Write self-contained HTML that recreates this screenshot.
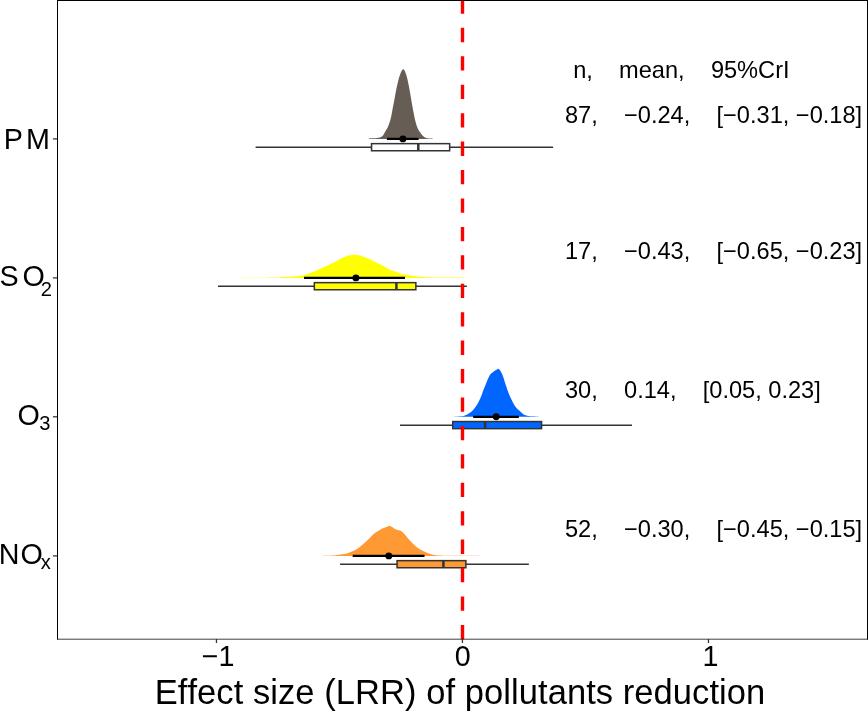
<!DOCTYPE html>
<html lang="en"><head><meta charset="utf-8"><title>Effect size (LRR) of pollutants reduction</title>
<style>html,body{margin:0;padding:0;background:#fff;}body{width:868px;height:712px;overflow:hidden;}svg{display:block;}svg text{white-space:pre;font-kerning:none;}svg{will-change:transform;}</style>
</head><body>
<svg width="868" height="712" viewBox="0 0 868 712">
<rect width="868" height="712" fill="#fff"/>
<g font-family="'Liberation Sans', sans-serif" fill="#000" style="font-kerning:none;white-space:pre" xml:space="preserve">
<path d="M369.00,138.90 L369.00,138.90 C369.05,138.83 367.97,138.64 369.30,138.50 C370.63,138.36 375.00,138.33 377.00,138.05 C379.00,137.77 380.22,137.37 381.30,136.80 C382.38,136.23 382.77,135.65 383.50,134.65 C384.23,133.65 384.97,132.08 385.70,130.80 C386.43,129.53 387.26,128.37 387.90,127.00 C388.54,125.63 389.00,124.33 389.55,122.60 C390.10,120.87 390.66,119.07 391.20,116.60 C391.74,114.13 392.25,110.73 392.80,107.80 C393.35,104.87 393.95,101.92 394.50,99.00 C395.05,96.08 395.55,93.03 396.10,90.30 C396.65,87.57 397.25,84.88 397.80,82.60 C398.35,80.32 398.87,78.33 399.40,76.60 C399.93,74.87 400.52,73.30 401.00,72.20 C401.48,71.10 401.92,70.48 402.30,70.00 C402.68,69.52 402.97,69.30 403.30,69.30 C403.63,69.30 403.97,69.52 404.30,70.00 C404.63,70.48 404.87,71.02 405.30,72.20 C405.73,73.38 406.35,75.00 406.90,77.10 C407.45,79.20 408.05,82.05 408.60,84.80 C409.15,87.55 409.65,90.50 410.20,93.60 C410.75,96.70 411.35,100.30 411.90,103.40 C412.45,106.50 412.97,109.45 413.50,112.20 C414.03,114.95 414.55,117.62 415.10,119.90 C415.65,122.18 416.25,124.27 416.80,125.90 C417.35,127.53 417.77,128.52 418.40,129.70 C419.03,130.88 419.87,132.00 420.60,133.00 C421.33,134.00 422.07,134.97 422.80,135.70 C423.53,136.43 424.27,136.99 425.00,137.40 C425.73,137.81 426.02,137.95 427.20,138.15 C428.38,138.35 431.20,138.47 432.10,138.60 C433.00,138.72 432.52,138.85 432.60,138.90 L432.60,138.90 Z" fill="#665E54"/>
<path d="M241.00,277.90 L241.00,277.90 C241.08,277.87 237.00,277.74 241.50,277.70 C246.00,277.66 263.33,277.72 268.00,277.68 C272.67,277.64 267.50,277.50 269.50,277.45 C271.50,277.40 278.00,277.46 280.00,277.40 C282.00,277.34 279.83,277.20 281.50,277.10 C283.17,277.00 287.58,276.94 290.00,276.80 C292.42,276.66 294.42,276.39 296.00,276.26 C297.58,276.13 298.35,276.14 299.50,276.00 C300.65,275.86 301.75,275.68 302.90,275.40 C304.05,275.12 305.25,274.67 306.40,274.30 C307.55,273.92 308.65,273.57 309.80,273.15 C310.95,272.73 312.15,272.26 313.30,271.80 C314.45,271.34 315.55,270.90 316.70,270.40 C317.85,269.90 319.05,269.32 320.20,268.80 C321.35,268.28 322.45,267.80 323.60,267.30 C324.75,266.80 325.94,266.35 327.10,265.80 C328.26,265.25 329.40,264.58 330.55,264.00 C331.70,263.42 332.84,262.90 334.00,262.30 C335.16,261.70 336.35,261.02 337.50,260.40 C338.65,259.78 339.75,259.18 340.90,258.60 C342.05,258.02 343.25,257.38 344.40,256.90 C345.55,256.42 346.65,256.01 347.80,255.70 C348.95,255.39 350.13,255.19 351.30,255.05 C352.47,254.91 353.77,254.85 354.80,254.85 C355.83,254.85 356.58,254.91 357.50,255.05 C358.42,255.19 359.37,255.44 360.30,255.70 C361.23,255.96 362.18,256.30 363.10,256.60 C364.02,256.90 364.77,257.10 365.80,257.50 C366.83,257.90 368.15,258.47 369.30,259.00 C370.45,259.53 371.55,260.13 372.70,260.70 C373.85,261.27 375.05,261.85 376.20,262.40 C377.35,262.95 378.45,263.43 379.60,264.00 C380.75,264.57 381.94,265.17 383.10,265.80 C384.26,266.43 385.40,267.15 386.55,267.80 C387.70,268.45 388.84,269.15 390.00,269.70 C391.16,270.25 392.35,270.67 393.50,271.10 C394.65,271.52 395.75,271.87 396.90,272.25 C398.05,272.63 399.25,273.06 400.40,273.40 C401.55,273.74 402.65,274.02 403.80,274.30 C404.95,274.58 406.00,274.85 407.30,275.10 C408.60,275.35 409.62,275.54 411.60,275.80 C413.58,276.06 416.67,276.42 419.20,276.65 C421.73,276.88 424.27,277.07 426.80,277.20 C429.33,277.32 430.53,277.33 434.40,277.40 C438.27,277.47 444.73,277.54 450.00,277.60 C455.27,277.66 463.17,277.70 466.00,277.75 C468.83,277.80 466.83,277.88 467.00,277.90 L467.00,277.90 Z" fill="#FFFF00"/>
<path d="M454.50,416.80 L454.50,416.80 C454.58,416.77 453.90,416.70 455.00,416.60 C456.10,416.50 459.58,416.35 461.10,416.20 C462.62,416.05 463.08,415.98 464.10,415.70 C465.12,415.42 466.18,415.02 467.20,414.50 C468.22,413.98 469.32,413.23 470.20,412.60 C471.08,411.97 471.75,411.45 472.50,410.70 C473.25,409.95 473.95,409.10 474.70,408.10 C475.45,407.10 476.23,405.97 477.00,404.70 C477.77,403.43 478.53,402.08 479.30,400.50 C480.07,398.92 480.85,397.10 481.60,395.20 C482.35,393.30 483.05,391.07 483.80,389.10 C484.55,387.13 485.47,384.98 486.10,383.40 C486.73,381.83 487.09,380.85 487.60,379.65 C488.11,378.45 488.63,377.14 489.15,376.20 C489.67,375.26 490.07,374.67 490.70,374.00 C491.32,373.33 492.15,372.80 492.90,372.20 C493.65,371.60 494.43,370.90 495.20,370.40 C495.97,369.90 496.93,369.44 497.50,369.20 C498.07,368.96 498.10,368.67 498.60,368.95 C499.10,369.23 499.92,370.06 500.50,370.90 C501.08,371.74 501.58,372.80 502.10,374.00 C502.62,375.20 503.10,376.58 503.60,378.10 C504.10,379.62 504.60,381.52 505.10,383.10 C505.60,384.68 506.10,386.15 506.60,387.60 C507.10,389.05 507.60,390.47 508.10,391.80 C508.60,393.13 509.08,394.40 509.60,395.60 C510.12,396.80 510.68,397.93 511.20,399.00 C511.72,400.07 512.20,401.05 512.70,402.00 C513.20,402.95 513.70,403.88 514.20,404.70 C514.70,405.52 515.20,406.23 515.70,406.90 C516.20,407.57 516.70,408.18 517.20,408.70 C517.70,409.22 518.18,409.53 518.70,410.00 C519.22,410.47 519.78,411.00 520.30,411.50 C520.82,412.00 521.30,412.56 521.80,413.00 C522.30,413.44 522.80,413.82 523.30,414.15 C523.80,414.48 524.30,414.76 524.80,415.00 C525.30,415.24 525.67,415.43 526.30,415.60 C526.93,415.78 527.58,415.93 528.60,416.05 C529.62,416.18 530.58,416.24 532.40,416.35 C534.22,416.46 538.23,416.62 539.50,416.70 C540.77,416.77 539.92,416.78 540.00,416.80 L540.00,416.80 Z" fill="#0066FF"/>
<path d="M323.00,555.90 L323.00,555.90 C323.08,555.87 321.70,555.77 323.50,555.70 C325.30,555.62 330.93,555.64 333.80,555.45 C336.67,555.26 338.39,554.93 340.70,554.56 C343.01,554.18 345.57,553.78 347.65,553.20 C349.73,552.62 351.59,551.84 353.20,551.10 C354.81,550.36 355.92,549.67 357.30,548.75 C358.68,547.83 360.12,546.71 361.50,545.60 C362.88,544.49 364.22,543.37 365.60,542.10 C366.98,540.83 368.42,539.38 369.80,538.00 C371.18,536.62 372.52,534.95 373.90,533.80 C375.28,532.65 376.72,531.97 378.10,531.10 C379.48,530.23 380.82,529.28 382.20,528.60 C383.58,527.92 385.18,527.44 386.40,527.00 C387.62,526.56 388.53,525.96 389.50,525.94 C390.47,525.92 391.30,526.39 392.20,526.90 C393.10,527.41 394.02,528.49 394.90,529.00 C395.78,529.51 396.62,529.68 397.50,529.95 C398.38,530.22 399.32,530.21 400.20,530.60 C401.08,530.99 401.92,531.52 402.80,532.30 C403.68,533.08 404.58,534.23 405.50,535.30 C406.42,536.37 407.37,537.63 408.30,538.70 C409.23,539.77 410.18,540.73 411.10,541.70 C412.02,542.67 412.88,543.62 413.80,544.50 C414.72,545.38 415.67,546.22 416.60,546.95 C417.53,547.68 418.48,548.32 419.40,548.90 C420.32,549.48 421.18,549.94 422.10,550.40 C423.02,550.86 423.97,551.23 424.90,551.65 C425.83,552.07 426.78,552.52 427.70,552.90 C428.62,553.27 429.48,553.60 430.40,553.90 C431.32,554.20 432.27,554.47 433.20,554.70 C434.13,554.92 435.08,555.12 436.00,555.25 C436.92,555.38 436.70,555.42 438.70,555.50 C440.70,555.58 441.37,555.66 448.00,555.70 C454.63,555.74 473.33,555.72 478.50,555.75 C483.67,555.78 478.92,555.88 479.00,555.90 L479.00,555.90 Z" fill="#FF9933"/>
<line x1="255.60" y1="147.30" x2="371.55" y2="147.30" stroke="#333" stroke-width="1.4"/>
<line x1="449.65" y1="147.30" x2="553.10" y2="147.30" stroke="#333" stroke-width="1.4"/>
<rect x="371.55" y="143.65" width="78.10" height="7.10" fill="#FFFFFF" stroke="#333" stroke-width="1.50"/>
<line x1="418.30" y1="143.65" x2="418.30" y2="150.75" stroke="#333" stroke-width="2.5"/>
<line x1="218.00" y1="286.30" x2="314.35" y2="286.30" stroke="#333" stroke-width="1.4"/>
<line x1="415.85" y1="286.30" x2="466.80" y2="286.30" stroke="#333" stroke-width="1.4"/>
<rect x="314.35" y="282.65" width="101.50" height="7.10" fill="#FFFF00" stroke="#333" stroke-width="1.50"/>
<line x1="396.40" y1="282.65" x2="396.40" y2="289.75" stroke="#333" stroke-width="2.5"/>
<line x1="400.00" y1="425.20" x2="452.75" y2="425.20" stroke="#333" stroke-width="1.4"/>
<line x1="541.55" y1="425.20" x2="632.00" y2="425.20" stroke="#333" stroke-width="1.4"/>
<rect x="452.75" y="421.55" width="88.80" height="7.10" fill="#0066FF" stroke="#333" stroke-width="1.50"/>
<line x1="485.15" y1="421.55" x2="485.15" y2="428.65" stroke="#333" stroke-width="2.5"/>
<line x1="340.10" y1="564.30" x2="397.05" y2="564.30" stroke="#333" stroke-width="1.4"/>
<line x1="465.85" y1="564.30" x2="528.85" y2="564.30" stroke="#333" stroke-width="1.4"/>
<rect x="397.05" y="560.65" width="68.80" height="7.10" fill="#FF9933" stroke="#333" stroke-width="1.50"/>
<line x1="443.40" y1="560.65" x2="443.40" y2="567.75" stroke="#333" stroke-width="2.5"/>
<line x1="386.90" y1="138.90" x2="418.60" y2="138.90" stroke="#000" stroke-width="2.2"/>
<circle cx="402.90" cy="138.90" r="3.45" fill="#000"/>
<line x1="304.00" y1="277.90" x2="405.00" y2="277.90" stroke="#000" stroke-width="2.2"/>
<circle cx="355.90" cy="277.90" r="3.45" fill="#000"/>
<line x1="473.20" y1="416.80" x2="518.85" y2="416.80" stroke="#000" stroke-width="2.2"/>
<circle cx="496.20" cy="416.80" r="3.45" fill="#000"/>
<line x1="352.70" y1="555.90" x2="424.50" y2="555.90" stroke="#000" stroke-width="2.2"/>
<circle cx="388.80" cy="555.90" r="3.45" fill="#000"/>
<line x1="462.50" y1="639.20" x2="462.50" y2="0" stroke="#FF0000" stroke-width="3.4" stroke-dasharray="14.3 14.13"/>
<text xml:space="preserve" x="573.20" y="78.00" font-size="23.60">n,    mean,    95%CrI</text>
<text xml:space="preserve" x="565.00" y="123.00" font-size="23.60">87,    −0.24,    [−0.31, −0.18]</text>
<text xml:space="preserve" x="565.00" y="259.00" font-size="23.60">17,    −0.43,    [−0.65, −0.23]</text>
<text xml:space="preserve" x="565.00" y="398.00" font-size="23.60">30,    0.14,    [0.05, 0.23]</text>
<text xml:space="preserve" x="565.00" y="537.00" font-size="23.60">52,    −0.30,    [−0.45, −0.15]</text>
<line x1="216.45" y1="639.20" x2="216.45" y2="643.00" stroke="#333" stroke-width="1.25"/>
<line x1="462.45" y1="639.20" x2="462.45" y2="643.00" stroke="#333" stroke-width="1.25"/>
<line x1="708.45" y1="639.20" x2="708.45" y2="643.00" stroke="#333" stroke-width="1.25"/>
<line x1="52.9" y1="138.90" x2="57.50" y2="138.90" stroke="#333" stroke-width="1.25"/>
<line x1="52.9" y1="277.90" x2="57.50" y2="277.90" stroke="#333" stroke-width="1.25"/>
<line x1="52.9" y1="416.80" x2="57.50" y2="416.80" stroke="#333" stroke-width="1.25"/>
<line x1="52.9" y1="555.90" x2="57.50" y2="555.90" stroke="#333" stroke-width="1.25"/>
<line x1="57.00" y1="639.20" x2="868.00" y2="639.20" stroke="#000" stroke-width="0.75"/>
<line x1="57.50" y1="0" x2="57.50" y2="639.50" stroke="#000" stroke-width="1"/>
<line x1="867.50" y1="0" x2="867.50" y2="639.50" stroke="#000" stroke-width="1"/>
<line x1="57.00" y1="0.50" x2="868.00" y2="0.50" stroke="#000" stroke-width="1"/>
<text x="218.15" y="666" font-size="28.70" text-anchor="middle">−1</text>
<text x="462.75" y="666" font-size="28.70" text-anchor="middle">0</text>
<text x="710.45" y="666" font-size="28.70" text-anchor="middle">1</text>
<text><tspan x="3.70" y="149.00" font-size="28.70">P</tspan><tspan x="25.90" y="149.00" font-size="28.70">M</tspan></text>
<text><tspan x="-0.60" y="285.80" font-size="28.70">S</tspan><tspan x="22.40" y="285.80" font-size="28.70">O</tspan><tspan x="40.70" y="295.80" font-size="20.10">2</tspan></text>
<text><tspan x="17.56" y="424.50" font-size="28.70">O</tspan><tspan x="39.20" y="430.00" font-size="20.10">3</tspan></text>
<text><tspan x="-1.30" y="564.00" font-size="28.70">N</tspan><tspan x="20.50" y="564.00" font-size="28.70">O</tspan><tspan x="40.85" y="568.60" font-size="20.10">x</tspan></text>
<text x="154.7" y="704.0" font-size="34.5" textLength="610.5" lengthAdjust="spacing">Effect size (LRR) of pollutants reduction</text>
</g></svg>
</body></html>
